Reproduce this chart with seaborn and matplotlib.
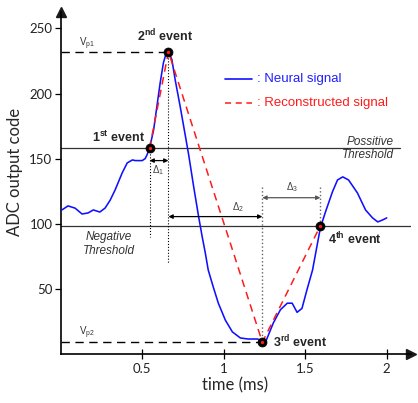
import matplotlib
matplotlib.use("Agg")
import matplotlib.pyplot as plt
import seaborn as sns
import pandas as pd

# Neural signal (time in ms, ADC code)
t_neural = [0.0, 0.045, 0.088, 0.131, 0.168, 0.2, 0.24, 0.272, 0.303, 0.334,
            0.377, 0.408, 0.44, 0.457, 0.5, 0.518, 0.53, 0.545, 0.57, 0.59,
            0.61, 0.63, 0.647, 0.661, 0.682, 0.703, 0.733, 0.764, 0.785, 0.795,
            0.815, 0.846, 0.868, 0.887, 0.905, 0.936, 0.967, 1.01, 1.053, 1.102,
            1.15, 1.207, 1.237, 1.256, 1.305, 1.348, 1.39, 1.42, 1.45, 1.48,
            1.51, 1.545, 1.593, 1.624, 1.667, 1.698, 1.73, 1.766, 1.82, 1.87,
            1.913, 1.945, 1.976, 2.0]
v_neural = [110, 113.7, 112, 107.5, 108.3, 110.6, 109, 112, 118, 126,
            139, 146.7, 149, 148.5, 148.5, 150, 153, 158, 172, 190,
            208, 223.5, 231, 232, 226, 210, 190, 168, 153, 145,
            129, 105.5, 90, 77.6, 64.5, 51.4, 39, 26, 17, 12.3,
            11.5, 11.5, 10, 9, 24, 34, 39, 39, 32, 35,
            49, 64.5, 97, 109, 124.5, 133.6, 136, 133.6, 123.7, 110.6,
            104.5, 101.4, 103, 104.5]

# Events / reconstructed signal
t_events = [0.545, 0.661, 1.237, 1.593]
v_events = [158, 232, 9, 98.5]
event_names = ["1$^{\\mathbf{st}}$ event", "2$^{\\mathbf{nd}}$ event",
               "3$^{\\mathbf{rd}}$ event", "4$^{\\mathbf{th}}$ event"]

pos_threshold = 158
neg_threshold = 98.5
vp1 = 232
vp2 = 9

x_ticks = [0.5, 1, 1.5, 2]
y_ticks = [50, 100, 150, 200, 250]

sns.set_theme(style="white")
plt.rcParams["font.family"] = ["Liberation Sans", "DejaVu Sans"]
plt.rcParams["mathtext.fontset"] = "custom"
plt.rcParams["mathtext.rm"] = "Liberation Sans"
plt.rcParams["mathtext.it"] = "Liberation Sans:italic"
plt.rcParams["mathtext.bf"] = "Liberation Sans:bold"

fig = plt.figure(figsize=(4.18, 4.03), dpi=100)
ax = fig.add_axes([0.1452, 0.1216, 0.8385, 0.849])

df_neural = pd.DataFrame({"t": t_neural, "v": v_neural})
df_events = pd.DataFrame({"t": t_events, "v": v_events})

# threshold lines
ax.plot([0, 2.08], [pos_threshold] * 2, color="#333333", lw=0.9, zorder=1)
ax.plot([0, 2.16], [neg_threshold] * 2, color="#333333", lw=0.9, zorder=1)

# peak levels
ax.plot([0, t_events[1]], [vp1] * 2, color="black", lw=1.0, dashes=(6, 4), zorder=1)
ax.plot([0, t_events[2]], [vp2] * 2, color="black", lw=1.0, dashes=(6, 4), zorder=1)

# dotted verticals
ax.plot([t_events[0]] * 2, [v_events[0], 90], color="black", lw=0.8, ls=":", zorder=1)
ax.plot([t_events[1]] * 2, [v_events[1], 70], color="black", lw=0.8, ls=":", zorder=1)
ax.plot([t_events[2]] * 2, [128, v_events[2]], color="#666666", lw=1.0, ls=":", zorder=1)
ax.plot([t_events[3]] * 2, [128, v_events[3]], color="#666666", lw=1.0, ls=":", zorder=1)

sns.lineplot(data=df_neural, x="t", y="v", ax=ax, color="#1010ff", lw=1.15,
             sort=False, estimator=None, zorder=3)
sns.lineplot(data=df_events, x="t", y="v", ax=ax, color="#ff1a1a", lw=1.1,
             sort=False, estimator=None, zorder=4)
ax.lines[-1].set_dashes((5, 3.5))
sns.scatterplot(data=df_events, x="t", y="v", ax=ax, color="black", s=42,
                edgecolor="black", zorder=5)
ax.scatter(t_events, v_events, color="#ff1a1a", s=2, zorder=6)

# delta arrows
arrow_kw = dict(arrowstyle="<|-|>", lw=0.9, mutation_scale=6, shrinkA=0, shrinkB=0)
ax.annotate("", xy=(t_events[0], 148.5), xytext=(t_events[1], 148.5),
            arrowprops=dict(color="black", **arrow_kw))
ax.annotate("", xy=(t_events[1], 105.5), xytext=(t_events[2], 105.5),
            arrowprops=dict(color="black", **arrow_kw))
ax.annotate("", xy=(t_events[2], 120), xytext=(t_events[3], 120),
            arrowprops=dict(color="#555555", **arrow_kw))
ax.text(0.6, 141, "$\\Delta_1$", fontsize=7, color="#444444", ha="center", va="center")
ax.text(1.09, 113, "$\\Delta_2$", fontsize=7, color="#444444", ha="center", va="center")
ax.text(1.42, 128, "$\\Delta_3$", fontsize=7, color="#444444", ha="center", va="center")

# event labels
ax.text(0.52, 166, event_names[0], fontsize=9, fontweight="bold", ha="right", va="center")
ax.text(0.64, 244.5, event_names[1], fontsize=9, fontweight="bold", ha="center", va="center")
ax.text(1.30, 9, event_names[2], fontsize=9, fontweight="bold", ha="left", va="center")
ax.text(1.64, 88, event_names[3], fontsize=9, fontweight="bold", ha="left", va="center")

ax.text(0.11, 238, "V$_{\\mathrm{p1}}$", fontsize=7, color="#333333", ha="left", va="center")
ax.text(0.115, 16, "V$_{\\mathrm{p2}}$", fontsize=7, color="#333333", ha="left", va="center")

# threshold labels
ax.text(2.045, 163, "Possitive", fontsize=8.5, style="italic", color="#333333",
        ha="right", va="center")
ax.text(2.045, 153, "Threshold", fontsize=8.5, style="italic", color="#333333",
        ha="right", va="center")
ax.text(0.295, 90, "Negative", fontsize=8.5, style="italic", color="#333333",
        ha="center", va="center")
ax.text(0.295, 79, "Threshold", fontsize=8.5, style="italic", color="#333333",
        ha="center", va="center")

# legend drawn by hand
ax.plot([1.01, 1.175], [211.5] * 2, color="#1010ff", lw=1.2)
ax.plot([1.01, 1.175], [193] * 2, color="#ff1a1a", lw=1.1, dashes=(4, 3))
ax.text(1.205, 211.5, ": Neural signal", fontsize=9.5, color="#2020ff", va="center")
ax.text(1.205, 193, ": Reconstructed signal", fontsize=9.5, color="#ff1a1a", va="center")

ax.set_xlim(0, 2.15)
ax.set_ylim(0, 262.7)
ax.set_xticks(x_ticks)
ax.set_xticklabels(["0.5", "1", "1.5", "2"])
ax.set_yticks(y_ticks)
ax.set_xlabel("")
ax.set_ylabel("")
for lab in ax.get_xticklabels() + ax.get_yticklabels():
    lab.set_family(["Lato", "DejaVu Sans"])
    lab.set_fontsize(9.5)
    lab.set_color("#222222")
ax.tick_params(axis="y", direction="out", length=4, width=0.9, color="black", pad=2, left=True)
ax.tick_params(axis="x", direction="inout", length=7, width=0.9, color="black", pad=3, bottom=True)

for side in ["top", "right"]:
    ax.spines[side].set_visible(False)
for side in ["left", "bottom"]:
    ax.spines[side].set_color("black")
    ax.spines[side].set_linewidth(1.2)

# axis arrow heads
ax.plot(0, 1, "^k", ms=7, transform=ax.transAxes, clip_on=False)
ax.plot(1, 0, ">k", ms=7, transform=ax.transAxes, clip_on=False)

fig.text(15 / 418, 1 - 172 / 403, "ADC output code", fontsize=12, rotation=90,
         ha="center", va="center", family=["Lato", "DejaVu Sans"])
fig.text(235 / 418, 1 - 385 / 403, "time (ms)", fontsize=12,
         ha="center", va="center", family=["Lato", "DejaVu Sans"])

fig.savefig("out.png", dpi=100)
